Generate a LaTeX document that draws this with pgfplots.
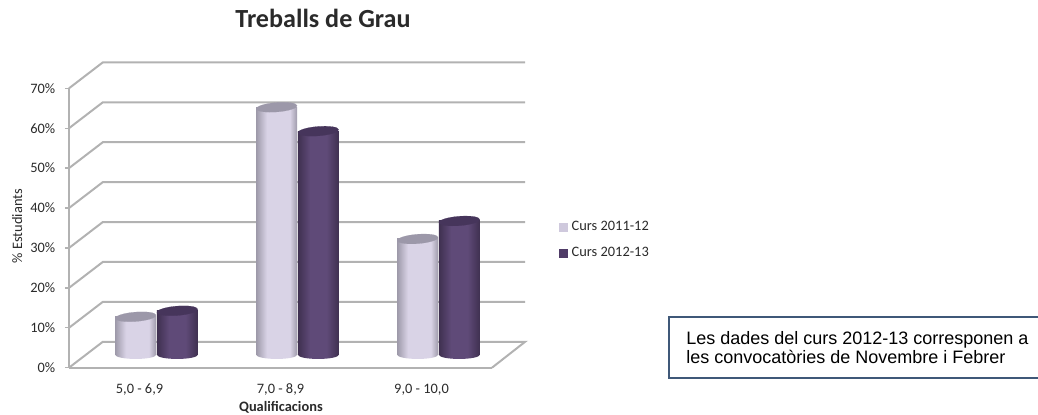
\documentclass[border=0pt]{standalone}
\usepackage{pgfplots}
\usepackage{fontspec}
\setmainfont{Carlito}
\newfontfamily\arialfont{Liberation Sans}
\pgfplotsset{compat=1.18}
\definecolor{gridc}{HTML}{B2B2B2}
\definecolor{txt}{HTML}{2A2A2A}
\definecolor{lmid}{HTML}{D9D3E6}
\definecolor{ledge}{HTML}{9E9AAA}
\definecolor{ltop}{HTML}{9C98A9}
\definecolor{dmid}{HTML}{5F4A78}
\definecolor{dedge}{HTML}{3F3050}
\definecolor{dtop}{HTML}{46355B}
\definecolor{lleg}{HTML}{CFC9DD}
\definecolor{dleg}{HTML}{4F3B67}
\definecolor{boxc}{HTML}{3F5878}
\pgfdeclarehorizontalshading{lightcyl}{100bp}{color(0bp)=(ledge); color(25bp)=(ledge); color(38bp)=(lmid); color(66bp)=(lmid); color(75bp)=(ledge); color(100bp)=(ledge)}
\pgfdeclarehorizontalshading{darkcyl}{100bp}{color(0bp)=(dedge); color(25bp)=(dedge); color(40bp)=(dmid); color(60bp)=(dmid); color(75bp)=(dedge); color(100bp)=(dedge)}
\pgfplotsset{
  wall/.style={forget plot,no marks,draw=gridc,line width=1.5pt},
  cyl body/.style={forget plot,ybar,bar width=30.75pt,bar shift=0pt,draw=none,shade,shading=#1},
  cyl base/.style={forget plot,only marks,mark=text,
    text mark={\tikz{\path[draw=none,fill=none] (-15.375pt,-3.2pt) rectangle (15.375pt,3.2pt);
      \shade[draw=none,shading=#1] (-15.375pt,0pt) arc [start angle=180,end angle=360,x radius=15.375pt,y radius=3.2pt] -- cycle;}}},
  cyl top/.style={forget plot,only marks,mark=*,mark size=15.35pt,
    mark options={rotate=4.5,yscale=.23,draw=#1,line width=.1pt,fill=#1}},
}
\begin{document}
\begin{tikzpicture}[x=1pt,y=1pt]
\path[use as bounding box] (0,0) rectangle (778.5,310.5);
% front plane: ticks, labels, wall and floor lines
\begin{axis}[
  at={(51.75pt,34.725pt)},anchor=south west,
  scale only axis,width=317.25pt,height=209.55pt,
  xmin=-0.5,xmax=2.5,ymin=0,ymax=70,clip=false,
  axis lines=left,axis line style={-,draw=gridc,line width=1.5pt},
  xtick={0,1,2},xticklabels={{5,0 - 6,9},{7,0 - 8,9},{9,0 - 10,0}},
  ytick={0,10,...,70},
  yticklabel={\pgfmathprintnumber[assume math mode=true]{\tick}\%},
  tick style={draw=gridc,line width=1pt},
  xtick style={draw=none},
  major tick length=3pt,tick align=outside,
  ticklabel style={font=\fontsize{10.8}{12}\selectfont,text=txt},
  yticklabel style={xshift=-3.75pt},
  xticklabel style={yshift=-5.5pt},
  title={Treballs de Grau},
  title style={at={(axis description cs:0.6005,1.223)},anchor=center,yshift=0pt,font=\fontsize{19.6}{22}\selectfont\bfseries,text=txt},
  xlabel={Qualificacions},
  xlabel style={at={(axis description cs:0.501,-0.143)},anchor=center,font=\fontsize{10.8}{12}\selectfont\bfseries,text=txt},
  ylabel={\% Estudiants},
  ylabel style={at={(axis description cs:-0.1225,0.507)},anchor=center,rotate=0,font=\fontsize{10.8}{12}\selectfont,text=txt},
]
\addplot[wall] coordinates {(2.5,0) (2.735,6.5) (-0.26,6.5) (-0.5,0)};
\addplot[wall] coordinates {(-0.5,10) (-0.26,16.5) (2.735,16.5)};
\addplot[wall] coordinates {(-0.5,20) (-0.26,26.5) (2.735,26.5)};
\addplot[wall] coordinates {(-0.5,30) (-0.26,36.5) (2.735,36.5)};
\addplot[wall] coordinates {(-0.5,40) (-0.26,46.5) (2.735,46.5)};
\addplot[wall] coordinates {(-0.5,50) (-0.26,56.5) (2.735,56.5)};
\addplot[wall] coordinates {(-0.5,60) (-0.26,66.5) (2.735,66.5)};
\addplot[wall] coordinates {(-0.5,70) (-0.26,76.5) (2.735,76.5)};
\end{axis}
% middle plane: the cylinders stand halfway back on the floor
\begin{axis}[
  at={(64.5pt,44.475pt)},anchor=south west,
  scale only axis,width=317.25pt,height=209.55pt,
  xmin=-0.5,xmax=2.5,ymin=0,ymax=70,clip=false,hide axis,
  legend style={at={(1.118,0.4105)},anchor=west,draw=none,fill=none,
    font=\fontsize{10.8}{12}\selectfont,text=txt,row sep=11.25pt,inner sep=0pt,
    nodes={inner sep=0pt},/tikz/every odd column/.append style={column sep=3pt}},
  legend cell align=left,
  legend image code/.code={\fill[#1] (0pt,-3pt) rectangle (6pt,3pt);},
]
\addlegendimage{lleg}\addlegendentry{Curs 2011-12}
\addlegendimage{dleg}\addlegendentry{Curs 2012-13}
\addplot[cyl base=lightcyl] coordinates {(-0.1475,0)};
\addplot[cyl body=lightcyl] coordinates {(-0.1475,9.5)};
\addplot[cyl top=ltop] coordinates {(-0.1475,9.5)};
\addplot[cyl base=darkcyl] coordinates {(0.1475,0)};
\addplot[cyl body=darkcyl] coordinates {(0.1475,11)};
\addplot[cyl top=dtop] coordinates {(0.1475,11)};
\addplot[cyl base=lightcyl] coordinates {(0.8525,0)};
\addplot[cyl body=lightcyl] coordinates {(0.8525,62)};
\addplot[cyl top=ltop] coordinates {(0.8525,62)};
\addplot[cyl base=darkcyl] coordinates {(1.1475,0)};
\addplot[cyl body=darkcyl] coordinates {(1.1475,56)};
\addplot[cyl top=dtop] coordinates {(1.1475,56)};
\addplot[cyl base=lightcyl] coordinates {(1.8525,0)};
\addplot[cyl body=lightcyl] coordinates {(1.8525,29)};
\addplot[cyl top=ltop] coordinates {(1.8525,29)};
\addplot[cyl base=darkcyl] coordinates {(2.1475,0)};
\addplot[cyl body=darkcyl] coordinates {(2.1475,33.5)};
\addplot[cyl top=dtop] coordinates {(2.1475,33.5)};
\end{axis}
% note box, cut by the right edge of the picture
\draw[boxc,line width=1.1pt] (778.5,72.75) -- (501.75,72.75) -- (501.75,27) -- (778.5,27);
\node[anchor=west,align=left,font=\arialfont\fontsize{13.5}{14.25}\selectfont,text=black,inner sep=0pt] at (514.5,49.9)
  {Les dades del curs 2012-13 corresponen a\\les convocatòries de Novembre i Febrer};
\end{tikzpicture}
\end{document}
